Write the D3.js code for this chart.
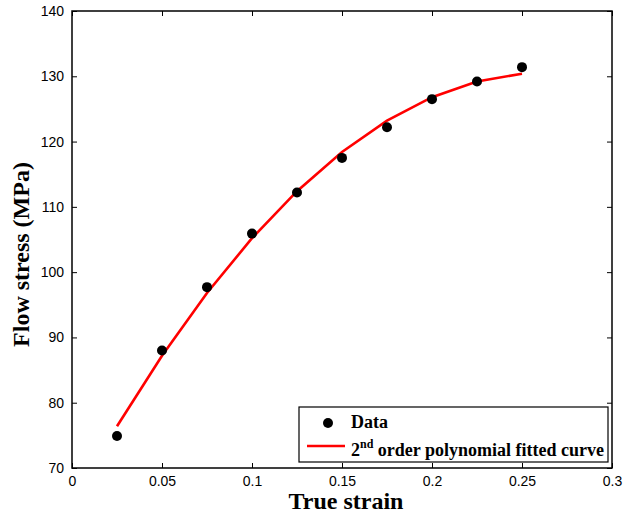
<!DOCTYPE html>
<html>
<head>
<meta charset="utf-8">
<script src="https://cdn.jsdelivr.net/npm/d3@7"></script>
<style>
  body { margin: 0; background: #fff; }
  .tick text { font-family: "Liberation Sans", Arial, sans-serif; font-size: 14px; fill: #000; }
</style>
</head>
<body>
<svg id="chart"></svg>
<script>
// measured strain / stress points
const strain = [0.025, 0.05, 0.075, 0.1, 0.125, 0.15, 0.175, 0.2, 0.225, 0.25];
const stress = [74.9, 88.0, 97.7, 105.9, 112.2, 117.5, 122.2, 126.5, 129.2, 131.4];
// fitted curve
const fitStress = [76.4, 87.2, 96.8, 105.2, 112.4, 118.4, 123.2, 126.8, 129.2, 130.4];
const xTicks = [0, 0.05, 0.1, 0.15, 0.2, 0.25, 0.3];
const yTicks = [70, 80, 90, 100, 110, 120, 130, 140];

const width = 624, height = 517;
const margin = {top: 11, right: 12, bottom: 49, left: 72};
const w = width - margin.left - margin.right;
const h = height - margin.top - margin.bottom;

const svg = d3.select("#chart").attr("width", width).attr("height", height);
const g = svg.append("g").attr("transform", `translate(${margin.left},${margin.top})`);

const x = d3.scaleLinear().domain([0, 0.3]).range([0, w]);
const y = d3.scaleLinear().domain([70, 140]).range([h, 0]);

const fmt = d => d3.format("")(d);

// axes, ticks pointing inward like matlab
g.append("g").attr("transform", `translate(0,${h})`)
  .call(d3.axisBottom(x).tickValues(xTicks).tickFormat(fmt).tickSizeInner(-5).tickSizeOuter(0).tickPadding(8));
g.append("g")
  .call(d3.axisTop(x).tickValues(xTicks).tickFormat("").tickSizeInner(-5).tickSizeOuter(0));
g.append("g")
  .call(d3.axisLeft(y).tickValues(yTicks).tickSizeInner(-5).tickSizeOuter(0).tickPadding(8));
g.append("g").attr("transform", `translate(${w},0)`)
  .call(d3.axisRight(y).tickValues(yTicks).tickFormat("").tickSizeInner(-5).tickSizeOuter(0));

g.selectAll(".domain").remove();
g.selectAll(".tick line").attr("stroke", "#000").attr("stroke-width", 1);

g.append("rect")
  .attr("width", w).attr("height", h)
  .attr("fill", "none").attr("stroke", "#000").attr("stroke-width", 1.5);

// fitted curve
const line = d3.line().x((d, i) => x(strain[i])).y(d => y(d));
g.append("path")
  .datum(fitStress)
  .attr("d", line)
  .attr("fill", "none")
  .attr("stroke", "#ff0000")
  .attr("stroke-width", 2.6);

// data points
g.selectAll("circle.pt")
  .data(stress)
  .join("circle")
  .attr("class", "pt")
  .attr("cx", (d, i) => x(strain[i]))
  .attr("cy", d => y(d))
  .attr("r", 5)
  .attr("fill", "#000");

// axis labels
svg.append("text")
  .attr("x", margin.left + w / 2 + 4).attr("y", 509)
  .attr("text-anchor", "middle")
  .style("font-family", "'Liberation Serif', 'Times New Roman', serif")
  .style("font-weight", "bold").style("font-size", "24px")
  .text("True strain");

svg.append("text")
  .attr("transform", `translate(29,${margin.top + h / 2 + 15}) rotate(-90)`)
  .attr("text-anchor", "middle")
  .style("font-family", "'Liberation Serif', 'Times New Roman', serif")
  .style("font-weight", "bold").style("font-size", "24px")
  .text("Flow stress (MPa)");

// legend
const lg = svg.append("g").attr("transform", "translate(299,407)");
lg.append("rect")
  .attr("width", 309).attr("height", 55)
  .attr("fill", "#fff").attr("stroke", "#000").attr("stroke-width", 1.2);
lg.append("circle").attr("cx", 29).attr("cy", 16).attr("r", 5).attr("fill", "#000");
lg.append("line")
  .attr("x1", 8).attr("x2", 46).attr("y1", 39).attr("y2", 39)
  .attr("stroke", "#ff0000").attr("stroke-width", 2.6);

const lfont = "'Liberation Serif', 'Times New Roman', serif";
lg.append("text")
  .attr("x", 52).attr("y", 21)
  .style("font-family", lfont).style("font-weight", "bold").style("font-size", "18px")
  .text("Data");
const t2 = lg.append("text")
  .attr("x", 52).attr("y", 49)
  .style("font-family", lfont).style("font-weight", "bold").style("font-size", "18px");
t2.append("tspan").text("2");
t2.append("tspan").attr("dy", -8).style("font-size", "12px").text("nd");
t2.append("tspan").attr("dy", 8).text(" order polynomial fitted curve");
</script>
</body>
</html>
